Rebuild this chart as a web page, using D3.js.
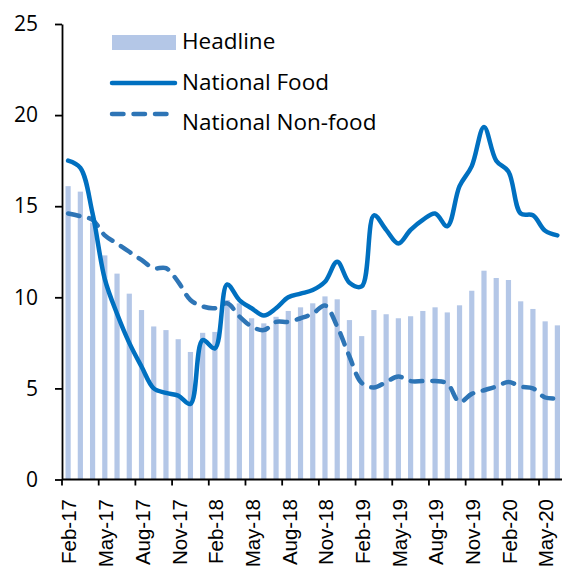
<!DOCTYPE html>
<html>
<head>
<meta charset="utf-8">
<script src="https://cdn.jsdelivr.net/npm/d3@7"></script>
<style>
  html, body { margin: 0; padding: 0; background: #fff; }
  svg { display: block; }
</style>
</head>
<body>
<svg id="chart" width="562" height="569"></svg>
<script>
const months = ["Feb-17","Mar-17","Apr-17","May-17","Jun-17","Jul-17","Aug-17","Sep-17","Oct-17","Nov-17","Dec-17","Jan-18",
  "Feb-18","Mar-18","Apr-18","May-18","Jun-18","Jul-18","Aug-18","Sep-18","Oct-18","Nov-18","Dec-18","Jan-19",
  "Feb-19","Mar-19","Apr-19","May-19","Jun-19","Jul-19","Aug-19","Sep-19","Oct-19","Nov-19","Dec-19","Jan-20",
  "Feb-20","Mar-20","Apr-20","May-20","Jun-20"];
const headline = [16.1,15.8,14.1,12.3,11.3,10.2,9.3,8.4,8.2,7.7,7.0,8.05,8.1,9.85,9.67,8.85,8.57,8.93,9.25,9.45,9.67,10.05,9.89,8.75,7.87,9.3,9.07,8.85,8.96,9.25,9.45,9.17,9.56,10.36,11.46,11.06,10.95,9.78,9.36,8.68,8.46];
const nationalFood = [17.5,17.1,14.6,11.0,9.1,7.5,6.2,5.0,4.75,4.6,4.15,7.65,7.2,10.7,9.85,9.4,9.0,9.4,10.0,10.2,10.4,10.85,11.95,10.8,10.6,14.5,13.7,12.95,13.7,14.25,14.6,13.9,16.1,17.2,19.35,17.5,16.9,14.6,14.5,13.65,13.4];
const nationalNonFood = [14.6,14.45,14.25,13.4,12.95,12.5,12.05,11.6,11.6,10.85,9.85,9.5,9.4,9.67,8.95,8.4,8.2,8.65,8.65,8.85,9.1,9.55,8.4,6.75,5.3,5.05,5.35,5.65,5.4,5.4,5.4,5.27,4.25,4.7,4.9,5.1,5.35,5.1,5.0,4.5,4.45];
const yTicks = [0,5,10,15,20,25];
const xTickLabels = ["Feb-17","May-17","Aug-17","Nov-17","Feb-18","May-18","Aug-18","Nov-18","Feb-19","May-19","Aug-19","Nov-19","Feb-20","May-20"];
const seriesNames = ["Headline","National Food","National Non-food"];

const svg = d3.select("#chart");
const x = d3.scaleBand().domain(months).range([62, 563.5]).padding(0);
const y = d3.scaleLinear().domain([0, 25]).range([479.5, 24]);

const barColor = "#b4c7e7", foodColor = "#0070c0", nonFoodColor = "#2e75b6";

// bars
const bw = 5.2;
svg.append("g").selectAll("rect").data(headline).join("rect")
  .attr("x", (d, i) => x(months[i]) + x.bandwidth() / 2 - bw / 2)
  .attr("y", d => y(d))
  .attr("width", bw)
  .attr("height", d => y(0) - y(d))
  .attr("fill", barColor);

const line = d3.line()
  .x((d, i) => x(months[i]) + x.bandwidth() / 2)
  .y(d => y(d))
  .curve(d3.curveCatmullRom.alpha(0.5));

svg.append("path").datum(nationalNonFood)
  .attr("d", line).attr("fill", "none")
  .attr("stroke", nonFoodColor).attr("stroke-width", 4.5)
  .attr("stroke-dasharray", "11.5,10").attr("stroke-linecap", "round");

svg.append("path").datum(nationalFood)
  .attr("d", line).attr("fill", "none")
  .attr("stroke", foodColor).attr("stroke-width", 4.5)
  .attr("stroke-linecap", "round").attr("stroke-linejoin", "round");

// y axis
const yAxis = d3.axisLeft(y).tickValues(yTicks).tickSize(7).tickPadding(17).tickSizeOuter(0);
const gy = svg.append("g").attr("transform", "translate(62,0)").call(yAxis);
gy.select(".domain").attr("stroke", "#000").attr("stroke-width", 1.8);
gy.selectAll(".tick line").attr("stroke", "#000").attr("stroke-width", 1.8);
gy.selectAll(".tick text").attr("font-family", "'Open Sans', 'Noto Sans', sans-serif")
  .attr("font-size", 21).attr("fill", "#000");

// x axis
const xTickPos = xTickLabels.map(m => x(m));
const gx = svg.append("g");
gx.append("line").attr("x1", 62).attr("x2", 563.5).attr("y1", y(0)).attr("y2", y(0))
  .attr("stroke", "#000").attr("stroke-width", 1.8);
gx.selectAll("line.tk").data(xTickPos).join("line").attr("class", "tk")
  .attr("x1", d => d).attr("x2", d => d).attr("y1", y(0)).attr("y2", y(0) + 6)
  .attr("stroke", "#000").attr("stroke-width", 1.8);
gx.selectAll("text").data(xTickLabels).join("text")
  .attr("transform", d => `translate(${x(d) + x.bandwidth() / 2 + 8.3},499) rotate(-90)`)
  .attr("text-anchor", "end")
  .attr("font-family", "'Liberation Sans', Arial, sans-serif")
  .attr("font-size", 20.5).attr("fill", "#000")
  .text(d => d);

// legend
const lg = svg.append("g");
lg.append("rect").attr("x", 112).attr("y", 35).attr("width", 64).attr("height", 15).attr("fill", barColor);
lg.append("line").attr("x1", 112).attr("x2", 175).attr("y1", 83).attr("y2", 83)
  .attr("stroke", foodColor).attr("stroke-width", 4.5).attr("stroke-linecap", "round");
lg.append("line").attr("x1", 112).attr("x2", 176).attr("y1", 114).attr("y2", 114)
  .attr("stroke", nonFoodColor).attr("stroke-width", 4.5).attr("stroke-linecap", "round")
  .attr("stroke-dasharray", "11.5,10");
[[seriesNames[0], 49], [seriesNames[1], 90], [seriesNames[2], 130]].forEach(([t, yy]) => {
  lg.append("text").attr("x", 182).attr("y", yy)
    .attr("font-family", "'Open Sans', 'Noto Sans', sans-serif").attr("font-size", 22.5)
    .attr("fill", "#000").text(t);
});
</script>
</body>
</html>
